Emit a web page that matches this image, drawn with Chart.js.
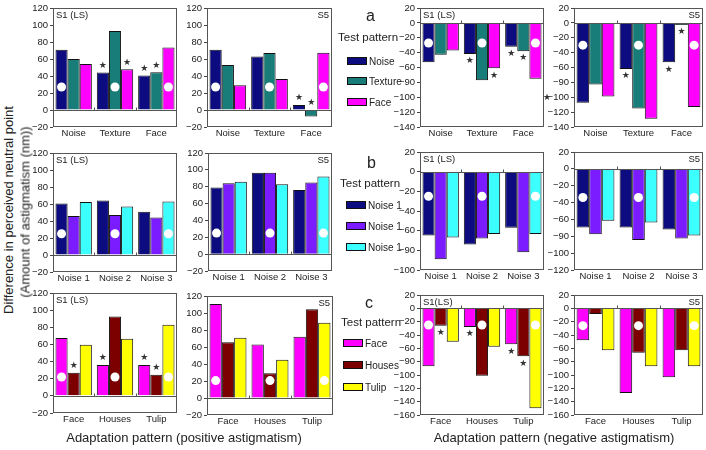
<!DOCTYPE html>
<html>
<head>
<meta charset="utf-8">
<script src="https://cdn.jsdelivr.net/npm/chart.js@4.4.0/dist/chart.umd.min.js"></script>
<style>
  body { margin: 0; width: 706px; height: 450px; position: relative; background: #fff; overflow: hidden;
         font-family: "Liberation Sans", Arial, sans-serif; color: #222; }
  .txt { position: absolute; white-space: nowrap; transform: translateY(-50%); }
  .rot { position: absolute; white-space: nowrap; transform: translate(-50%, -50%) rotate(-90deg); font-size: 13px; }
  .sw { position: absolute; border: 1px solid #111; box-sizing: border-box; transform: translateY(-50%); }
</style>
</head>
<body>
<script>
// categories (adaptation pattern) and test-pattern names
const catsA = ['Noise', 'Texture', 'Face'];
const catsB = ['Noise 1', 'Noise 2', 'Noise 3'];
const catsC = ['Face', 'Houses', 'Tulip'];
const legendA = ['Noise', 'Texture', 'Face'];
const legendB = ['Noise 1', 'Noise 1', 'Noise 1'];
const legendC = ['Face', 'Houses', 'Tulip'];
const colorsA = ['#0c0c80', '#187c78', '#ff00ff'];
const colorsB = ['#0c0c80', '#7a1cff', '#3cffff'];
const colorsC = ['#ff00ff', '#7c0000', '#ffff00'];

// y tick labels
const posTickValues = [-20, 0, 20, 40, 60, 80, 100, 120];
const posTickLabels = ['\u221220', '0', '20', '40', '60', '80', '100', '120'];
const negTickValues = [20, 0, -20, -40, -60, -80, -100, -120, -140, -160];
const negTickLabels = ['20', '0', '\u221220', '\u221240', '\u221260', '\u221290', '\u2212100', '\u2212120', '\u2212140', '\u2212160'];

// values: one row per test pattern, across the 3 adaptation patterns
const aS1pos = [[71, 44, 40.5], [60, 93, 44.5], [54, 48, 73.5]];
const aS5pos = [[71, 63, 6], [53, 67, -7.5], [29, 36.5, 67.5]];
const aS1neg = [[-53, -42, -32], [-43, -77, -38], [-37, -61, -75]];
const aS5neg = [[-107.5, -62, -53], [-83, -115, -3], [-99, -129, -113]];
const bS1pos = [[60.5, 64, 51], [46, 47, 44], [62.5, 57, 63]];
const bS5pos = [[79, 96.5, 76], [84, 96.5, 85], [86, 83, 92]];
const bS1neg = [[-65, -74, -57], [-89, -68, -82], [-67, -63.5, -63.5]];
const bS5neg = [[-69.5, -69.5, -72], [-77.5, -84.5, -82.5], [-61.5, -63.5, -79]];
const cS1pos = [[67.5, 36, 36], [27, 92.5, 24.5], [59.5, 66.5, 83]];
const cS5pos = [[110.5, 63, 72], [65.5, 29, 104.5], [71, 45, 88.5]];
const cS1neg = [[-87, -28, -54], [-26, -101, -72], [-50, -57.5, -150]];
const cS5neg = [[-48, -127, -103.5], [-8.5, -66.5, -63], [-63, -87, -87]];

// significance stars: [adaptation index, test pattern index]
const starsAS1pos = [[1, 0], [1, 2], [2, 0], [2, 1]];
const starsAS5pos = [[2, 0], [2, 1]];
const starsAS1neg = [[1, 0], [1, 2], [2, 0], [2, 1]];
const starsAS5neg = [[1, 0], [2, 0], [2, 1]];
const starsCS1pos = [[0, 1], [1, 0], [2, 0], [2, 1]];
const starsCS1neg = [[0, 1], [1, 0], [2, 0], [2, 1]];

// overlay: zero line, white dots, stars, frame, subject tag
const marks = {
  id: 'marks',
  afterDatasetsDraw(chart, args, o) {
    const { ctx, chartArea: a } = chart;
    const y = chart.scales.y;
    const x = chart.scales.x;
    ctx.save();
    const y0 = Math.round(y.getPixelForValue(0)) + 0.5;
    ctx.strokeStyle = '#555';
    ctx.lineWidth = 1;
    ctx.beginPath(); ctx.moveTo(a.left, y0); ctx.lineTo(a.right, y0); ctx.stroke();
    // little ticks between groups on the zero line
    for (let i = 1; i < 3; i++) {
      const bx = Math.round((x.getPixelForValue(i - 1) + x.getPixelForValue(i)) / 2) + 0.5;
      ctx.beginPath(); ctx.moveTo(bx, y0); ctx.lineTo(bx, y0 - 3); ctx.stroke();
    }

    const cy = y.getPixelForValue(o.circle);
    ctx.fillStyle = '#fff';
    for (let i = 0; i < 3; i++) {
      const bar = chart.getDatasetMeta(i).data[i];
      ctx.beginPath(); ctx.arc(bar.x, cy, 4.5, 0, Math.PI * 2); ctx.fill();
    }

    ctx.fillStyle = '#333';
    ctx.font = '9px "DejaVu Sans"';
    ctx.textAlign = 'center';
    ctx.textBaseline = 'middle';
    (o.stars || []).forEach(([g, d]) => {
      const v = chart.data.datasets[d].data[g];
      const bar = chart.getDatasetMeta(d).data[g];
      const py = o.neg ? y.getPixelForValue(Math.min(v, 0)) + 7 : y.getPixelForValue(Math.max(v, 0)) - 7;
      ctx.fillText('\u2605', bar.x, py);
    });
    if (o.sideStar !== undefined) {
      ctx.fillText('\u2605', a.left - 27, y.getPixelForValue(o.sideStar));
    }

    ctx.strokeStyle = '#555';
    ctx.strokeRect(a.left + 0.5, a.top + 0.5, a.width - 1, a.height - 1);

    ctx.fillStyle = '#222';
    ctx.font = '9.5px "Liberation Sans"';
    if (o.right) {
      ctx.textAlign = 'right';
      ctx.fillText(o.tag, a.right - 3, a.top + 7);
    } else {
      ctx.textAlign = 'left';
      ctx.fillText(o.tag, a.left + 3, a.top + 7);
    }
    ctx.restore();
  }
};

const panels = [
  { pos: [53, 8, 177, 127], cats: catsA, names: legendA, colors: colorsA, data: aS1pos, neg: false, min: -20, max: 120, circle: 27, stars: starsAS1pos, tag: 'S1 (LS)' },
  { pos: [207, 8, 332, 127], cats: catsA, names: legendA, colors: colorsA, data: aS5pos, neg: false, min: -20, max: 120, circle: 27, stars: starsAS5pos, tag: 'S5', right: true },
  { pos: [420, 8, 544, 127], cats: catsA, names: legendA, colors: colorsA, data: aS1neg, neg: true, min: -140, max: 20, circle: -27, stars: starsAS1neg, tag: 'S1 (LS)' },
  { pos: [574, 8, 703, 127], cats: catsA, names: legendA, colors: colorsA, data: aS5neg, neg: true, min: -140, max: 20, circle: -30, stars: starsAS5neg, tag: 'S5', right: true, sideStar: -100 },
  { pos: [53, 153, 177, 272], cats: catsB, names: legendB, colors: colorsB, data: bS1pos, neg: false, min: -20, max: 120, circle: 25, tag: 'S1 (LS)' },
  { pos: [208, 153, 332, 271], cats: catsB, names: legendB, colors: colorsB, data: bS5pos, neg: false, min: -20, max: 120, circle: 25, tag: 'S5', right: true },
  { pos: [420, 152, 544, 270], cats: catsB, names: legendB, colors: colorsB, data: bS1neg, neg: true, min: -100, max: 20, circle: -25, tag: 'S1 (LS)' },
  { pos: [574, 152, 703, 270], cats: catsB, names: legendB, colors: colorsB, data: bS5neg, neg: true, min: -120, max: 20, circle: -34, tag: 'S5', right: true },
  { pos: [53, 293, 177, 413], cats: catsC, names: legendC, colors: colorsC, data: cS1pos, neg: false, min: -20, max: 120, circle: 22, stars: starsCS1pos, tag: 'S1 (LS)' },
  { pos: [207, 296, 333, 415], cats: catsC, names: legendC, colors: colorsC, data: cS5pos, neg: false, min: -20, max: 120, circle: 20.5, tag: 'S5', right: true },
  { pos: [420, 295, 544, 415], cats: catsC, names: legendC, colors: colorsC, data: cS1neg, neg: true, min: -160, max: 20, circle: -25, stars: starsCS1neg, tag: 'S1(LS)' },
  { pos: [574, 295, 703, 415], cats: catsC, names: legendC, colors: colorsC, data: cS5neg, neg: true, min: -160, max: 20, circle: -26, tag: 'S5', right: true }
];

function drawPanel(p) {
  const [l, t, r, b] = p.pos;
  const yw = 34, pt = 8, xh = 16, pr = 2;
  const cv = document.createElement('canvas');
  cv.width = r - l + yw + pr;
  cv.height = b - t + pt + xh;
  cv.style.cssText = `position:absolute;left:${l - yw}px;top:${t - pt}px`;
  document.body.appendChild(cv);
  const tv = p.neg ? negTickValues : posTickValues;
  const tl = p.neg ? negTickLabels : posTickLabels;

  new Chart(cv, {
    type: 'bar',
    data: {
      labels: p.cats,
      datasets: p.data.map((vals, i) => ({
        label: p.names[i],
        data: vals,
        backgroundColor: p.colors[i],
        borderColor: '#111',
        borderWidth: 1,
        categoryPercentage: 0.88,
        barPercentage: 1.0
      }))
    },
    options: {
      responsive: false,
      animation: false,
      events: [],
      layout: { padding: { top: pt, right: pr, left: 0, bottom: 0 } },
      plugins: {
        legend: { display: false },
        tooltip: { enabled: false },
        marks: { circle: p.circle, stars: p.stars, neg: p.neg, tag: p.tag, right: p.right, sideStar: p.sideStar }
      },
      scales: {
        x: {
          grid: { display: false, drawTicks: false },
          border: { display: false },
          ticks: { font: { family: 'Liberation Sans', size: 9.5 }, color: '#222', padding: 1, maxRotation: 0 },
          afterFit: s => { s.height = xh; }
        },
        y: {
          min: p.min,
          max: p.max,
          grid: { display: true, drawOnChartArea: false, drawTicks: true, tickLength: 3, color: '#444' },
          border: { display: false },
          ticks: {
            stepSize: 20,
            autoSkip: false,
            padding: 2,
            color: '#222',
            font: { family: 'Liberation Sans', size: 9.5 },
            callback: v => { const k = tv.indexOf(v); return k >= 0 ? tl[k] : ''; }
          },
          afterFit: s => { s.width = yw; }
        }
      }
    },
    plugins: [marks]
  });
}

panels.forEach(drawPanel);

// legends in the middle column
function addText(str, x, y, size, extra) {
  const d = document.createElement('div');
  d.className = 'txt';
  d.textContent = str;
  d.style.left = x + 'px';
  d.style.top = y + 'px';
  d.style.fontSize = size + 'px';
  if (extra) d.style.cssText += extra;
  document.body.appendChild(d);
}

function addLegend(letter, lx, ly, tpx, tpy, boxX, textX, rowsY, names, colors) {
  addText(letter, lx, ly, 16);
  addText('Test pattern', tpx, tpy, 11.5);
  rowsY.forEach((ry, i) => {
    const sw = document.createElement('div');
    sw.className = 'sw';
    sw.style.cssText += `left:${boxX}px;top:${ry}px;width:20px;height:8px;background:${colors[i]}`;
    document.body.appendChild(sw);
    addText(names[i], textX, ry, 10);
  });
}

addLegend('a', 366, 16, 338, 37, 347, 369, [61, 81, 102], legendA, colorsA);
addLegend('b', 367, 163, 340, 183, 346, 368, [205, 226, 247], legendB, colorsB);
addLegend('c', 365, 303, 341, 322, 343, 365, [343, 365, 387], legendC, colorsC);

// axis titles
addText('Adaptation pattern (positive astigmatism)', 0, 437, 13, 'left:184px;transform:translate(-50%,-50%)');
addText('Adaptation pattern (negative astigmatism)', 0, 437, 13, 'left:554px;transform:translate(-50%,-50%)');

['Difference in perceived neutral point', '(Amount of astigmatism (nm))'].forEach((s, i) => {
  const d = document.createElement('div');
  d.className = 'rot';
  d.textContent = s;
  d.style.left = (i === 0 ? 8 : 25) + 'px';
  d.style.top = (i === 0 ? 210 : 212) + 'px';
  document.body.appendChild(d);
});
</script>
</body>
</html>
